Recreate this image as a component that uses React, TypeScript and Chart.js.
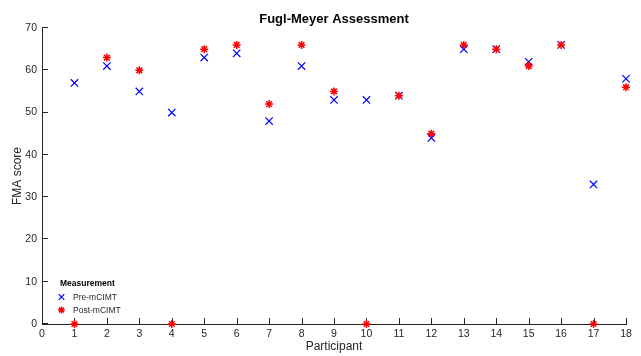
import React, { useEffect, useRef } from "react";
import { Chart, registerables } from "chart.js";

Chart.register(...registerables);

const participants = [1, 2, 3, 4, 5, 6, 7, 8, 9, 10, 11, 12, 13, 14, 15, 16, 17, 18];
const preScores = [57, 61, 55, 50, 63, 64, 48, 61, 53, 53, 54, 44, 65, 65, 62, 66, 33, 58];
const postScores = [0, 63, 60, 0, 65, 66, 52, 66, 55, 0, 54, 45, 66, 65, 61, 66, 0, 56];
const seriesNames = ["Pre-mCIMT", "Post-mCIMT"];
const titleText = "Fugl-Meyer Assessment";
const legendTitle = "Measurement";
const xLabel = "Participant";
const yLabel = "FMA score";

const FONT = "'Liberation Sans', Arial, Helvetica, sans-serif";
const AXIS = "#262626";
const BLUE = "#0000ff";
const RED = "#ff0000";

const decorPlugin = {
  id: "decor",
  beforeDatasetsDraw(chart: any) {
    const { ctx, chartArea, scales } = chart;
    ctx.save();
    ctx.strokeStyle = AXIS;
    ctx.lineWidth = 1;
    ctx.beginPath();
    scales.x.ticks.forEach((t: any) => {
      const px = Math.round(scales.x.getPixelForValue(t.value)) + 0.5;
      ctx.moveTo(px, chartArea.bottom);
      ctx.lineTo(px, chartArea.bottom - 6);
    });
    scales.y.ticks.forEach((t: any) => {
      const py = Math.round(scales.y.getPixelForValue(t.value)) - 0.5;
      ctx.moveTo(chartArea.left, py);
      ctx.lineTo(chartArea.left + 6, py);
    });
    ctx.stroke();
    ctx.restore();
  },
  afterDraw(chart: any) {
    const { ctx, chartArea } = chart;
    ctx.save();
    ctx.fillStyle = "#000";
    ctx.font = `bold 13px ${FONT}`;
    ctx.textAlign = "center";
    ctx.textBaseline = "alphabetic";
    ctx.fillText(titleText, (chartArea.left + chartArea.right) / 2, 22.5);
    const lx = chartArea.left + 18;
    ctx.textAlign = "left";
    ctx.font = `bold 8.5px ${FONT}`;
    ctx.fillText(legendTitle, lx, 286);
    ctx.font = `8.5px ${FONT}`;
    ctx.fillStyle = AXIS;
    ctx.fillText(seriesNames[0], lx + 13, 300);
    ctx.fillText(seriesNames[1], lx + 13, 313);
    const mx = lx + 1.5;
    ctx.lineWidth = 1.2;
    ctx.strokeStyle = BLUE;
    let cy = 297;
    let r = 2.8;
    ctx.beginPath();
    ctx.moveTo(mx - r, cy - r);
    ctx.lineTo(mx + r, cy + r);
    ctx.moveTo(mx - r, cy + r);
    ctx.lineTo(mx + r, cy - r);
    ctx.stroke();
    ctx.strokeStyle = RED;
    ctx.lineWidth = 1.5;
    cy = 310;
    r = 3.4;
    const d = r * 0.707;
    ctx.beginPath();
    ctx.moveTo(mx - r, cy);
    ctx.lineTo(mx + r, cy);
    ctx.moveTo(mx, cy - r);
    ctx.lineTo(mx, cy + r);
    ctx.moveTo(mx - d, cy - d);
    ctx.lineTo(mx + d, cy + d);
    ctx.moveTo(mx - d, cy + d);
    ctx.lineTo(mx + d, cy - d);
    ctx.stroke();
    ctx.restore();
  },
};

export default function App() {
  const ref = useRef<HTMLCanvasElement | null>(null);
  useEffect(() => {
    if (!ref.current) return;
    const chart = new Chart(ref.current, {
      type: "scatter",
      data: {
        datasets: [
          {
            label: seriesNames[1],
            data: participants.map((p, i) => ({ x: p, y: postScores[i] })),
            pointStyle: "star",
            pointRadius: 4,
            pointBorderColor: RED,
            pointBackgroundColor: RED,
            pointBorderWidth: 1.5,
            borderColor: RED,
            backgroundColor: RED,
            showLine: false,
            clip: false,
            order: 0,
          } as any,
          {
            label: seriesNames[0],
            data: participants.map((p, i) => ({ x: p, y: preScores[i] })),
            pointStyle: "crossRot",
            pointRadius: 5.2,
            pointBorderColor: BLUE,
            pointBackgroundColor: BLUE,
            pointBorderWidth: 1.2,
            borderColor: BLUE,
            backgroundColor: BLUE,
            showLine: false,
            clip: false,
            order: 1,
          } as any,
        ],
      },
      options: {
        animation: false,
        responsive: false,
        events: [],
        layout: { padding: { top: 28, right: 15, left: 0, bottom: 0 } },
        plugins: {
          legend: { display: false },
          title: { display: false },
          tooltip: { enabled: false },
        },
        scales: {
          x: {
            type: "linear",
            min: 0,
            max: 18,
            ticks: {
              stepSize: 1,
              autoSkip: false,
              maxRotation: 0,
              color: AXIS,
              font: { family: FONT, size: 10.5 },
              padding: 4,
            },
            grid: { display: false, drawTicks: false },
            border: { display: true, color: AXIS, width: 1 },
            title: {
              display: true,
              text: xLabel,
              color: AXIS,
              font: { family: FONT, size: 12 },
              padding: { top: 0, bottom: 2 },
            },
            afterFit: (s: any) => {
              s.height = 32;
            },
          },
          y: {
            type: "linear",
            min: 0,
            max: 70,
            ticks: {
              stepSize: 10,
              color: AXIS,
              font: { family: FONT, size: 10.5 },
              padding: 5,
            },
            grid: { display: false, drawTicks: false },
            border: { display: true, color: AXIS, width: 1 },
            title: {
              display: true,
              text: yLabel,
              color: AXIS,
              font: { family: FONT, size: 12 },
              padding: { top: 10, bottom: 0 },
            },
            afterFit: (s: any) => {
              s.width = 42;
            },
          },
        },
      } as any,
      plugins: [decorPlugin],
    });
    return () => chart.destroy();
  }, []);
  return (
    <div style={{ position: "absolute", left: 0, top: 0, width: 641, height: 356, background: "#fff" }}>
      <canvas ref={ref} width={641} height={356} />
    </div>
  );
}
